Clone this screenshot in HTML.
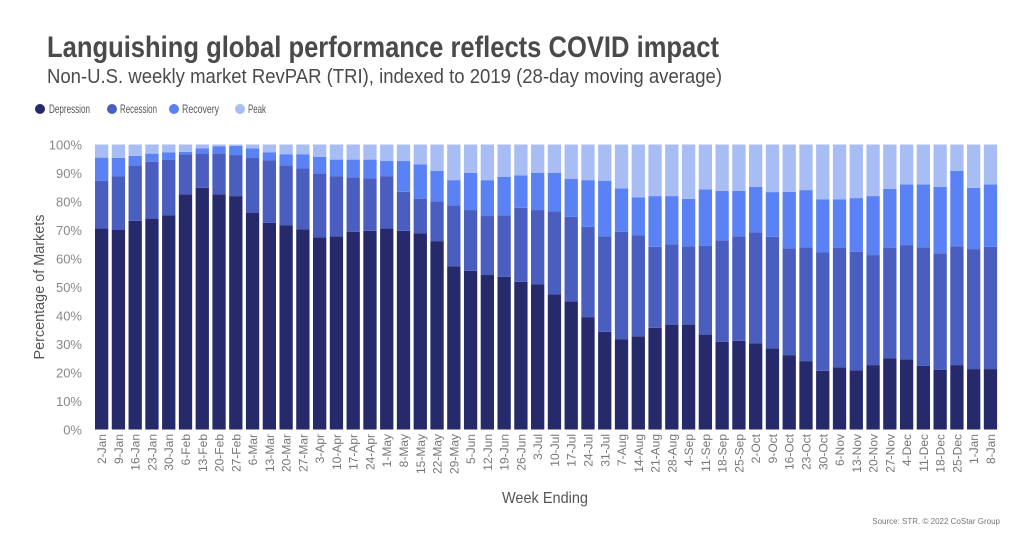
<!DOCTYPE html>
<html><head><meta charset="utf-8"><style>
html,body{margin:0;padding:0;background:#fff;width:1024px;height:536px;overflow:hidden}
svg{display:block}
text{font-family:"Liberation Sans Narrow","Liberation Sans",sans-serif}
</style></head><body>
<svg id="c" width="1024" height="536" viewBox="0 0 1024 536" xmlns="http://www.w3.org/2000/svg">
<text x="47" y="57" font-size="30" font-weight="bold" fill="#4a4a4a" textLength="672" lengthAdjust="spacingAndGlyphs">Languishing global performance reflects COVID impact</text>
<text x="47" y="83" font-size="20" fill="#4a4a4a" textLength="675" lengthAdjust="spacingAndGlyphs">Non-U.S. weekly market RevPAR (TRI), indexed to 2019 (28-day moving average)</text>
<circle cx="40" cy="109" r="5" fill="#262a6b"/><text x="49" y="113" font-size="12" fill="#555" textLength="41" lengthAdjust="spacingAndGlyphs">Depression</text>
<circle cx="112" cy="109" r="5" fill="#4a5ec0"/><text x="120" y="113" font-size="12" fill="#555" textLength="37" lengthAdjust="spacingAndGlyphs">Recession</text>
<circle cx="174" cy="109" r="5" fill="#5b82f5"/><text x="182" y="113" font-size="12" fill="#555" textLength="37" lengthAdjust="spacingAndGlyphs">Recovery</text>
<circle cx="240" cy="109" r="5" fill="#a9bdf5"/><text x="248" y="113" font-size="12" fill="#555" textLength="18" lengthAdjust="spacingAndGlyphs">Peak</text>
<text transform="translate(44,287) rotate(-90)" text-anchor="middle" font-size="15" fill="#555" textLength="145" lengthAdjust="spacingAndGlyphs">Percentage of Markets</text>
<text x="545" y="503" text-anchor="middle" font-size="16" fill="#555" textLength="86" lengthAdjust="spacingAndGlyphs">Week Ending</text>
<text x="1000" y="524" text-anchor="end" font-size="8" fill="#777">Source: STR. © 2022 CoStar Group</text>
<g id="bars"></g>
</svg>
<script>
var D=[[70.5,87.3,95.4],[70,88.9,95.3],[73.2,92.7,96],[74,93.9,96.8],[75.2,94.7,97.2],[82.5,96.6,97.4],[84.8,96.8,98.6],[82.5,96.8,99.4],[81.9,96.3,99.5],[76.1,95.4,98.6],[72.5,94.5,97.2],[71.7,92.7,96.6],[70.2,91.6,96.6],[67.4,89.8,95.7],[67.8,88.9,94.7],[69.4,88.4,94.7],[69.7,88.1,94.7],[70.5,88.9,94.2],[69.7,83.4,94.2],[68.8,81,93],[66.1,80.1,90.8],[57.3,78.7,87.5],[55.7,77,90],[54.2,74.9,87.5],[53.6,75.2,88.7],[51.8,77.8,89.2],[51,77,90],[47.4,76.6,90],[45,74.6,88],[39.3,71.1,87.5],[34.3,67.8,87.3],[31.7,69.4,84.6],[32.7,68.2,81.4],[35.7,64.1,81.9],[36.8,65,81.9],[36.8,64.3,80.9],[33.3,64.4,84.2],[30.8,66.4,83.7],[31.1,67.8,83.7],[30.2,69.1,85.1],[28.4,67.6,83.3],[26.1,63.6,83.4],[24,63.9,84],[20.6,62.1,80.8],[21.8,63.7,80.8],[20.8,62.3,81.2],[22.6,61.2,81.9],[24.9,63.7,84.4],[24.6,64.7,86],[22.3,63.9,86],[21,61.8,85.1],[22.6,64.3,90.8],[21.2,63.3,84.8],[21.2,64.1,86]];
var L="2-Jan 9-Jan 16-Jan 23-Jan 30-Jan 6-Feb 13-Feb 20-Feb 27-Feb 6-Mar 13-Mar 20-Mar 27-Mar 3-Apr 10-Apr 17-Apr 24-Apr 1-May 8-May 15-May 22-May 29-May 5-Jun 12-Jun 19-Jun 26-Jun 3-Jul 10-Jul 17-Jul 24-Jul 31-Jul 7-Aug 14-Aug 21-Aug 28-Aug 4-Sep 11-Sep 18-Sep 25-Sep 2-Oct 9-Oct 16-Oct 23-Oct 30-Oct 6-Nov 13-Nov 20-Nov 27-Nov 4-Dec 11-Dec 18-Dec 25-Dec 1-Jan 8-Jan".split(" ");
var C=["#262a6b","#4a5ec0","#5b82f5","#a9bdf5"];
var y0=429.5,h=285,s="";
function Y(p){return y0-p*h/100;}
for(var t=0;t<=100;t+=10){s+='<text x="82" y="'+(Y(t)+5)+'" text-anchor="end" font-size="13" fill="#888">'+t+'%</text>';}
for(var i=0;i<54;i++){
 var x=95+i*16.77,w=13.3,d=D[i],v=[0,d[0],d[1],d[2],100];
 for(var k=0;k<4;k++){s+='<rect x="'+x.toFixed(2)+'" y="'+Y(v[k+1]).toFixed(2)+'" width="'+w+'" height="'+(Y(v[k])-Y(v[k+1])).toFixed(2)+'" fill="'+C[k]+'"/>';}
 s+='<text transform="translate('+(x+w/2+4.5).toFixed(2)+',434) rotate(-90)" text-anchor="end" font-size="12" fill="#777">'+L[i]+'</text>';
}
document.getElementById("bars").innerHTML=s;
</script>
</body></html>
